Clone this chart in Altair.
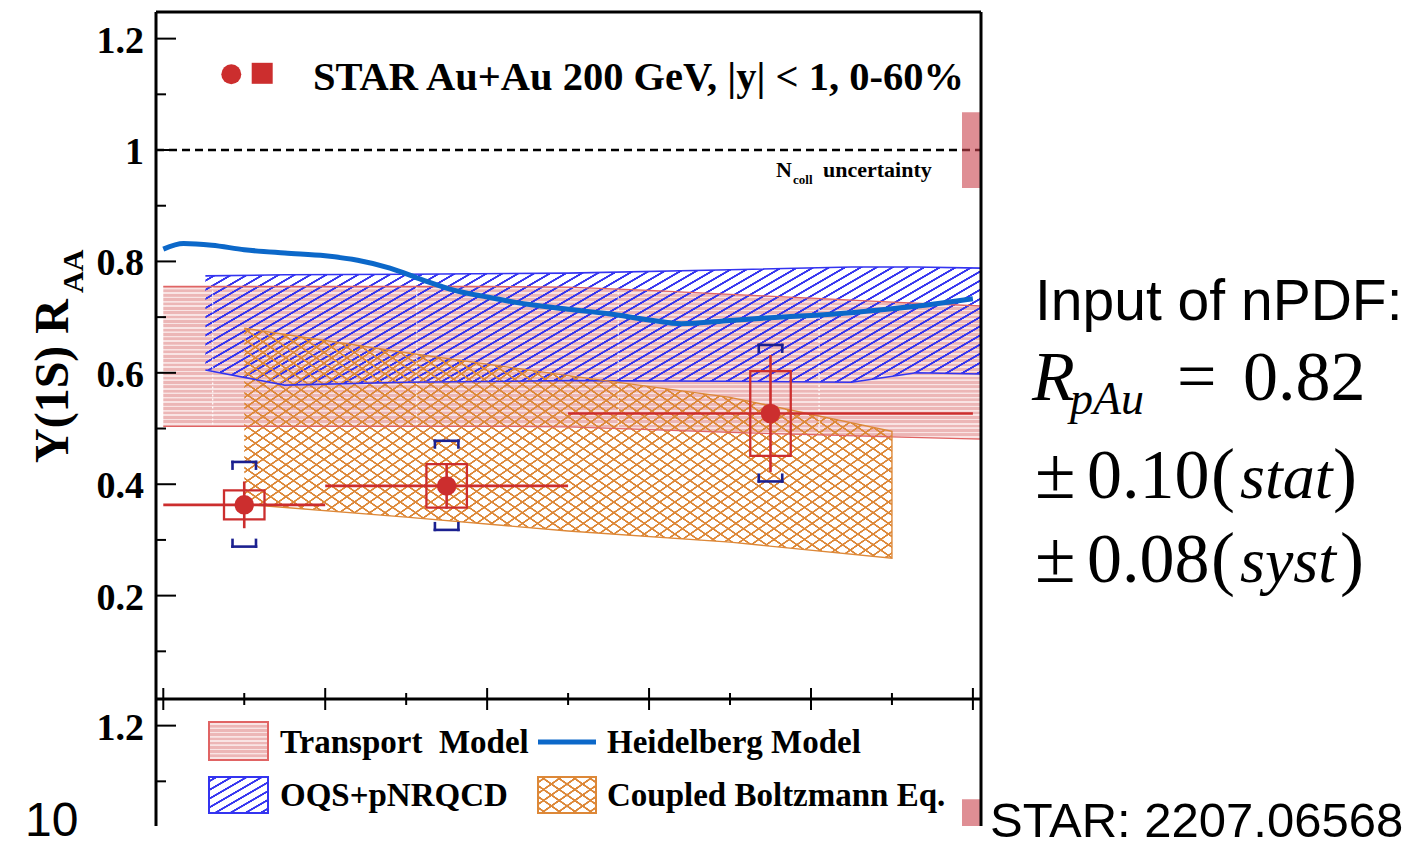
import math
import altair as alt
import pandas as pd

# ---------------- values ----------------
pt_centre = [1.0, 3.5, 7.5]
pt_low = [0.0, 2.0, 5.0]
pt_high = [2.0, 5.0, 10.0]
raa = [0.363, 0.397, 0.527]
raa_stat = [0.042, 0.041, 0.105]
raa_syst = [0.026, 0.039, 0.076]
raa_glob_hi = [0.440, 0.478, 0.650]
raa_glob_lo = [0.288, 0.318, 0.405]

transport_pt = [0.0, 1.0, 2.0, 3.0, 4.0, 5.0, 6.0, 7.0, 8.0, 9.0, 10.1]
transport_hi = [0.755, 0.755, 0.755, 0.755, 0.755, 0.754, 0.748, 0.741, 0.734, 0.727, 0.720]
transport_lo = [0.504, 0.504, 0.504, 0.504, 0.504, 0.503, 0.498, 0.493, 0.489, 0.485, 0.481]
transport_seam_pt = [0.61, 3.13, 5.62, 8.10]
transport_seam_hi = [0.755, 0.755, 0.751, 0.736]
transport_seam_lo = [0.504, 0.504, 0.501, 0.490]

oqs_pt = [0.52, 1.5, 3.0, 5.0, 7.0, 8.5, 9.3, 10.1]
oqs_hi = [0.774, 0.776, 0.777, 0.779, 0.785, 0.790, 0.790, 0.788]
oqs_lo = [0.605, 0.578, 0.583, 0.586, 0.585, 0.583, 0.600, 0.598]

cbe_pt = [1.0, 3.0, 5.0, 7.0, 9.0]
cbe_hi = [0.680, 0.636, 0.595, 0.556, 0.495]
cbe_lo = [0.364, 0.341, 0.316, 0.296, 0.267]

heid_pt = [0.0, 0.25, 0.6, 1.0, 1.5, 2.0, 2.4, 2.8, 3.2, 3.6, 4.0, 4.5, 5.0,
           5.5, 6.0, 6.4, 7.0, 7.5, 8.0, 8.5, 9.0, 9.5, 10.0]
heid_raa = [0.822, 0.832, 0.829, 0.821, 0.815, 0.810, 0.802, 0.788, 0.767, 0.748,
            0.736, 0.723, 0.714, 0.706, 0.695, 0.688, 0.694, 0.699, 0.703, 0.708,
            0.715, 0.723, 0.733]

ncoll_unc = 0.068

y_major = [0.2, 0.4, 0.6, 0.8, 1.0, 1.2]
y_minor = [0.1, 0.3, 0.5, 0.7, 0.9, 1.1]
x_major = [0, 2, 4, 6, 8, 10]
x_minor = [1, 3, 5, 7, 9]
lower_major = [1.2]
lower_minor = [1.1]

# ---------------- layout / style ----------------
W, H = 825, 814
X_DOM = [-0.09, 10.1]
Y_DOM = [-0.2136, 1.2478]
Y_DIV = 0.0144                     # bottom of the upper panel
LOW_SHIFT = Y_DOM[1] - Y_DIV       # lower panel shares the scale, shifted
OX, OY = 156, 12                   # page position of the plot origin

SERIF = "Liberation Serif"
SANS = "Liberation Sans"
RED = "#cc2e2e"
NAVY = "#1b2090"
HD_BLUE = "#0c68c9"
OQS_BLUE = "#3434f0"
ORANGE = "#dd8838"
TR_LINE = "#e06464"

XS = alt.Scale(domain=X_DOM, nice=False, zero=False)
YS = alt.Scale(domain=Y_DOM, nice=False, zero=False)


def px_x(v):
    return (v - X_DOM[0]) / (X_DOM[1] - X_DOM[0]) * W


def px_y(v):
    return (Y_DOM[1] - v) / (Y_DOM[1] - Y_DOM[0]) * H


def lin_grad(stops, x1, y1, x2, y2):
    return alt.LinearGradient(
        gradient="linear", x1=x1, y1=y1, x2=x2, y2=y2,
        stops=[alt.GradientStop(color=c, offset=round(min(1.0, max(0.0, o)), 6)) for o, c in stops])


def hatch(color, clear, w_px, h_px, angle, spacing, lw, rising=True):
    th = math.radians(angle)
    D = w_px * math.sin(th) + h_px * math.cos(th)
    k = w_px * math.sin(th) / D
    m = h_px * math.cos(th) / D
    if not rising:
        m = -m
    den = k * k + m * m
    a, b = k / den, m / den
    y1 = 0 if rising else 1
    n = max(1, round(D / spacing))
    half = lw / 2 / D
    soft = 0.45 / D
    stops = [(0.0, clear)]
    for i in range(n):
        c = (i + 0.5) / n
        stops += [(c - half - soft, clear), (c - half, color), (c + half, color), (c + half + soft, clear)]
    stops.append((1.0, clear))
    return lin_grad(stops, 0, y1, a, y1 + b)


def hstripes(base, line, h_px, period, lw):
    n = max(1, round(h_px / period))
    half = lw / 2 / h_px
    soft = 0.3 / h_px
    stops = [(0.0, base)]
    for i in range(n):
        c = (i + 0.5) / n
        stops += [(c - half - soft, base), (c - half, line), (c + half, line), (c + half + soft, base)]
    stops.append((1.0, base))
    return lin_grad(stops, 0, 0, 0, 1)


def X(field):
    return alt.X(field, scale=XS, axis=None)


def Y(field):
    return alt.Y(field, scale=YS, axis=None)


layers = []

# ---------------- transport model band ----------------
tr_df = pd.DataFrame({"pt": transport_pt, "hi": transport_hi, "lo": transport_lo})
tr_h = px_y(min(transport_lo)) - px_y(max(transport_hi))
layers.append(alt.Chart(tr_df).mark_area(
    fill=hstripes("#ecb6b6", "#f9e4e4", tr_h, 4.4, 1.3), opacity=1
).encode(x=X("pt:Q"), y=Y("hi:Q"), y2="lo:Q"))

# ---------------- OQS+pNRQCD band ----------------
oqs_df = pd.DataFrame({"pt": oqs_pt, "hi": oqs_hi, "lo": oqs_lo})
oqs_w = px_x(max(oqs_pt)) - px_x(min(oqs_pt))
oqs_h = px_y(min(oqs_lo)) - px_y(max(oqs_hi))
layers.append(alt.Chart(oqs_df).mark_area(
    fill=hatch(OQS_BLUE, "rgba(52,52,240,0)", oqs_w, oqs_h, 30, 7.9, 1.5, True), opacity=1
).encode(x=X("pt:Q"), y=Y("hi:Q"), y2="lo:Q"))

# ---------------- coupled Boltzmann band ----------------
cbe_df = pd.DataFrame({"pt": cbe_pt, "hi": cbe_hi, "lo": cbe_lo})
cbe_w = px_x(max(cbe_pt)) - px_x(min(cbe_pt))
cbe_h = px_y(min(cbe_lo)) - px_y(max(cbe_hi))
for rising in (True, False):
    layers.append(alt.Chart(cbe_df).mark_area(
        fill=hatch(ORANGE, "rgba(221,136,56,0)", cbe_w, cbe_h, 35, 8.8, 1.25, rising), opacity=1
    ).encode(x=X("pt:Q"), y=Y("hi:Q"), y2="lo:Q"))

# seams of the transport band
seam_df = pd.DataFrame({"pt": transport_seam_pt, "hi": transport_seam_hi, "lo": transport_seam_lo})
layers.append(alt.Chart(seam_df).mark_rule(
    color="white", strokeWidth=1.3, strokeDash=[2, 2], opacity=0.9
).encode(x=X("pt:Q"), y=Y("hi:Q"), y2="lo:Q"))

# band outlines
for col in ("hi", "lo"):
    layers.append(alt.Chart(tr_df).mark_line(color=TR_LINE, strokeWidth=1.3).encode(x=X("pt:Q"), y=Y(f"{col}:Q")))
    layers.append(alt.Chart(oqs_df).mark_line(color=OQS_BLUE, strokeWidth=1.6).encode(x=X("pt:Q"), y=Y(f"{col}:Q")))
cbe_outline = pd.DataFrame({
    "pt": cbe_pt + cbe_pt[::-1],
    "v": cbe_hi + cbe_lo[::-1],
    "o": list(range(2 * len(cbe_pt))),
})
layers.append(alt.Chart(cbe_outline).mark_line(color=ORANGE, strokeWidth=1.4).encode(
    x=X("pt:Q"), y=Y("v:Q"), order="o:Q"))

# ---------------- Heidelberg model ----------------
hd_df = pd.DataFrame({"pt": heid_pt, "v": heid_raa})
layers.append(alt.Chart(hd_df).mark_line(color=HD_BLUE, strokeWidth=5, interpolate="monotone").encode(
    x=X("pt:Q"), y=Y("v:Q")))

# ---------------- reference line at 1 and N_coll boxes ----------------
one_df = pd.DataFrame({"v": [1.0]})
layers.append(alt.Chart(one_df).mark_rule(color="black", strokeWidth=2.4, strokeDash=[8, 5]).encode(
    y=Y("v:Q"), x=alt.value(0), x2=alt.value(W)))
nc_df = pd.DataFrame({"hi": [1 + ncoll_unc, 1 + ncoll_unc - LOW_SHIFT],
                      "lo": [1 - ncoll_unc, 1 - ncoll_unc - LOW_SHIFT]})
layers.append(alt.Chart(nc_df).mark_rect(color="#c9434c", opacity=0.6, clip=True).encode(
    y=Y("hi:Q"), y2="lo:Q", x=alt.value(W - 19), x2=alt.value(W)))

# ---------------- data points ----------------
BOX_HW = 0.25
BRK_HW = 0.145
BRK_TICK = 0.012
pts = pd.DataFrame({"pt": pt_centre, "lo": pt_low, "hi": pt_high, "raa": raa,
                    "stat": raa_stat, "syst": raa_syst})
pts["st_lo"] = pts["raa"] - pts["stat"]
pts["st_hi"] = pts["raa"] + pts["stat"]
pts["sy_lo"] = pts["raa"] - pts["syst"]
pts["sy_hi"] = pts["raa"] + pts["syst"]
pts["bx_l"] = pts["pt"] - BOX_HW
pts["bx_r"] = pts["pt"] + BOX_HW

layers.append(alt.Chart(pts).mark_rule(color=RED, strokeWidth=2.6).encode(
    x=X("lo:Q"), x2="hi:Q", y=Y("raa:Q")))
layers.append(alt.Chart(pts).mark_rule(color=RED, strokeWidth=2.6).encode(
    x=X("pt:Q"), y=Y("st_lo:Q"), y2="st_hi:Q"))
layers.append(alt.Chart(pts).mark_rect(color=RED, fillOpacity=0, stroke=RED, strokeWidth=2.3).encode(
    x=X("bx_l:Q"), x2="bx_r:Q", y=Y("sy_lo:Q"), y2="sy_hi:Q"))

seg = []
for p, hi, lo in zip(pt_centre, raa_glob_hi, raa_glob_lo):
    seg += [
        (p - BRK_HW, p + BRK_HW, hi, hi),
        (p - BRK_HW, p - BRK_HW, hi, hi - BRK_TICK),
        (p + BRK_HW, p + BRK_HW, hi, hi - BRK_TICK),
        (p - BRK_HW, p + BRK_HW, lo, lo),
        (p - BRK_HW, p - BRK_HW, lo, lo + BRK_TICK),
        (p + BRK_HW, p + BRK_HW, lo, lo + BRK_TICK),
    ]
brk_df = pd.DataFrame(seg, columns=["x1", "x2", "y1", "y2"])
layers.append(alt.Chart(brk_df).mark_rule(color=NAVY, strokeWidth=2.6, strokeCap="square").encode(
    x=X("x1:Q"), x2="x2:Q", y=Y("y1:Q"), y2="y2:Q"))

layers.append(alt.Chart(pts).mark_circle(color=RED, size=380, opacity=1).encode(
    x=X("pt:Q"), y=Y("raa:Q")))

# ---------------- frame, axis labels, ticks ----------------
LBL = dict(font=SERIF, fontWeight="bold", fontSize=38, align="right", baseline="middle",
           color="black", dy=3)
ylab = pd.DataFrame({"lab": [f"{v:g}" for v in y_major], "y": y_major})
layers.append(alt.Chart(ylab).mark_rule(color="black", strokeWidth=2).encode(
    y=Y("y:Q"), x=alt.value(0), x2=alt.value(20)))
layers.append(alt.Chart(ylab).mark_text(**LBL).encode(y=Y("y:Q"), x=alt.value(-12), text="lab:N"))
layers.append(alt.Chart(pd.DataFrame({"v": y_minor})).mark_rule(color="black", strokeWidth=2).encode(
    y=Y("v:Q"), x=alt.value(0), x2=alt.value(10)))

low_maj = pd.DataFrame({"lab": [f"{v:g}" for v in lower_major], "v": lower_major})
low_maj["y"] = low_maj["v"] - LOW_SHIFT
low_min = pd.DataFrame({"v": lower_minor})
low_min["y"] = low_min["v"] - LOW_SHIFT
layers.append(alt.Chart(low_maj).mark_rule(color="black", strokeWidth=2).encode(
    y=Y("y:Q"), x=alt.value(0), x2=alt.value(20)))
layers.append(alt.Chart(low_min).mark_rule(color="black", strokeWidth=2).encode(
    y=Y("y:Q"), x=alt.value(0), x2=alt.value(10)))
layers.append(alt.Chart(low_maj).mark_text(**LBL).encode(y=Y("y:Q"), x=alt.value(-12), text="lab:N"))

div_y = px_y(Y_DIV)
layers.append(alt.Chart(pd.DataFrame({"v": [Y_DIV]})).mark_rule(color="black", strokeWidth=3).encode(
    y=Y("v:Q"), x=alt.value(0), x2=alt.value(W)))
layers.append(alt.Chart(pd.DataFrame({"v": x_major})).mark_rule(color="black", strokeWidth=2).encode(
    x=X("v:Q"), y=alt.value(div_y - 11), y2=alt.value(div_y + 11)))
layers.append(alt.Chart(pd.DataFrame({"v": x_minor})).mark_rule(color="black", strokeWidth=2).encode(
    x=X("v:Q"), y=alt.value(div_y - 6), y2=alt.value(div_y + 6)))

frame_df = pd.DataFrame({"k": [0]})
layers.append(alt.Chart(frame_df).mark_rule(color="black", strokeWidth=3).encode(
    x=alt.value(0), x2=alt.value(W), y=alt.value(0)))
layers.append(alt.Chart(frame_df).mark_rule(color="black", strokeWidth=3).encode(
    x=alt.value(W), y=alt.value(0), y2=alt.value(H)))
layers.append(alt.Chart(frame_df).mark_rule(color="black", strokeWidth=3).encode(
    x=alt.value(0), y=alt.value(0), y2=alt.value(H)))

# ---------------- header markers ----------------
layers.append(alt.Chart(frame_df).mark_point(shape="circle", filled=True, size=398, color=RED, opacity=1).encode(
    x=alt.value(231.3 - OX), y=alt.value(74.2 - OY)))
layers.append(alt.Chart(frame_df).mark_point(shape="square", filled=True, size=441, color=RED, opacity=1).encode(
    x=alt.value(262.2 - OX), y=alt.value(73.3 - OY)))

# ---------------- legend ----------------
def swatch(x0, y0, x1, y1, fill, stroke):
    return alt.Chart(frame_df).mark_rect(fill=fill, stroke=stroke, strokeWidth=2, opacity=1).encode(
        x=alt.value(x0 - OX), x2=alt.value(x1 - OX), y=alt.value(y0 - OY), y2=alt.value(y1 - OY))


layers.append(swatch(209, 722, 268, 760, hstripes("#ecb6b6", "#f9e4e4", 38, 4.4, 1.3), TR_LINE))
layers.append(swatch(209, 777, 268, 813, hatch(OQS_BLUE, "rgba(52,52,240,0)", 59, 36, 30, 7.9, 1.5, True), OQS_BLUE))
layers.append(swatch(538, 777, 596, 813, hatch(ORANGE, "rgba(221,136,56,0)", 58, 36, 35, 9.5, 1.4, True), ORANGE))
layers.append(swatch(538, 777, 596, 813, hatch(ORANGE, "rgba(221,136,56,0)", 58, 36, 35, 9.5, 1.4, False), ORANGE))
layers.append(alt.Chart(frame_df).mark_rule(color=HD_BLUE, strokeWidth=5).encode(
    x=alt.value(538 - OX), x2=alt.value(596 - OX), y=alt.value(742 - OY)))

# ---------------- texts (page coordinates) ----------------
texts = [
    # text, x, y, size, font, weight, style, angle
    ("STAR Au+Au 200 GeV, |y| < 1, 0-60%", 313, 90, 40.5, SERIF, "bold", "normal", 0),
    ("N", 776, 177, 22, SERIF, "bold", "normal", 0),
    ("coll", 793, 184, 13, SERIF, "bold", "normal", 0),
    ("uncertainty", 823, 177, 22, SERIF, "bold", "normal", 0),
    ("\u03a5(1S) R", 68, 463, 48, SERIF, "bold", "normal", 270),
    ("AA", 83, 293, 30, SERIF, "bold", "normal", 270),
    ("Transport\u00a0 Model", 280, 753, 33, SERIF, "bold", "normal", 0),
    ("Heidelberg Model", 607, 753, 33, SERIF, "bold", "normal", 0),
    ("OQS+pNRQCD", 280, 806, 33, SERIF, "bold", "normal", 0),
    ("Coupled Boltzmann Eq.", 607, 806, 33, SERIF, "bold", "normal", 0),
    ("Input of nPDF:", 1035, 320, 57, SANS, "normal", "normal", 0),
    ("R", 1032, 400, 70, SERIF, "normal", "italic", 0),
    ("pAu", 1070, 414, 46, SERIF, "normal", "italic", 0),
    ("=", 1177, 400, 70, SERIF, "normal", "normal", 0),
    ("0.82", 1243, 400, 70, SERIF, "normal", "normal", 0),
    ("\u00b1", 1035, 498, 74, SERIF, "normal", "normal", 0),
    ("0.10", 1087, 498, 70, SERIF, "normal", "normal", 0),
    ("(", 1211, 498, 72, SERIF, "normal", "normal", 0),
    ("stat", 1240, 498, 64, SERIF, "normal", "italic", 0),
    (")", 1333, 498, 72, SERIF, "normal", "normal", 0),
    ("\u00b1", 1035, 582, 74, SERIF, "normal", "normal", 0),
    ("0.08", 1087, 582, 70, SERIF, "normal", "normal", 0),
    ("(", 1211, 582, 72, SERIF, "normal", "normal", 0),
    ("syst", 1240, 582, 64, SERIF, "normal", "italic", 0),
    (")", 1340, 582, 72, SERIF, "normal", "normal", 0),
    ("STAR: 2207.06568", 990, 837, 49, SANS, "normal", "normal", 0),
    ("10", 25, 836, 48, SANS, "normal", "normal", 0),
]
for t, x, y, size, font, weight, style, angle in texts:
    kw = dict(font=font, fontSize=size, fontWeight=weight, fontStyle=style, align="left",
              baseline="alphabetic", color="black")
    if angle:
        kw["angle"] = angle
    layers.append(alt.Chart(pd.DataFrame({"t": [t]})).mark_text(**kw).encode(
        x=alt.value(x - OX), y=alt.value(y - OY), text="t:N"))

chart = alt.layer(*layers).properties(
    width=W, height=H,
    padding={"left": OX - 8, "top": OY - 8, "right": 1398 - (OX - 8) - W, "bottom": 840 - (OY - 8) - H},
    autosize=alt.AutoSizeParams(type="none"),
).configure_view(stroke=None)

chart.save("out.html", embed_options={"renderer": "svg", "actions": False})
